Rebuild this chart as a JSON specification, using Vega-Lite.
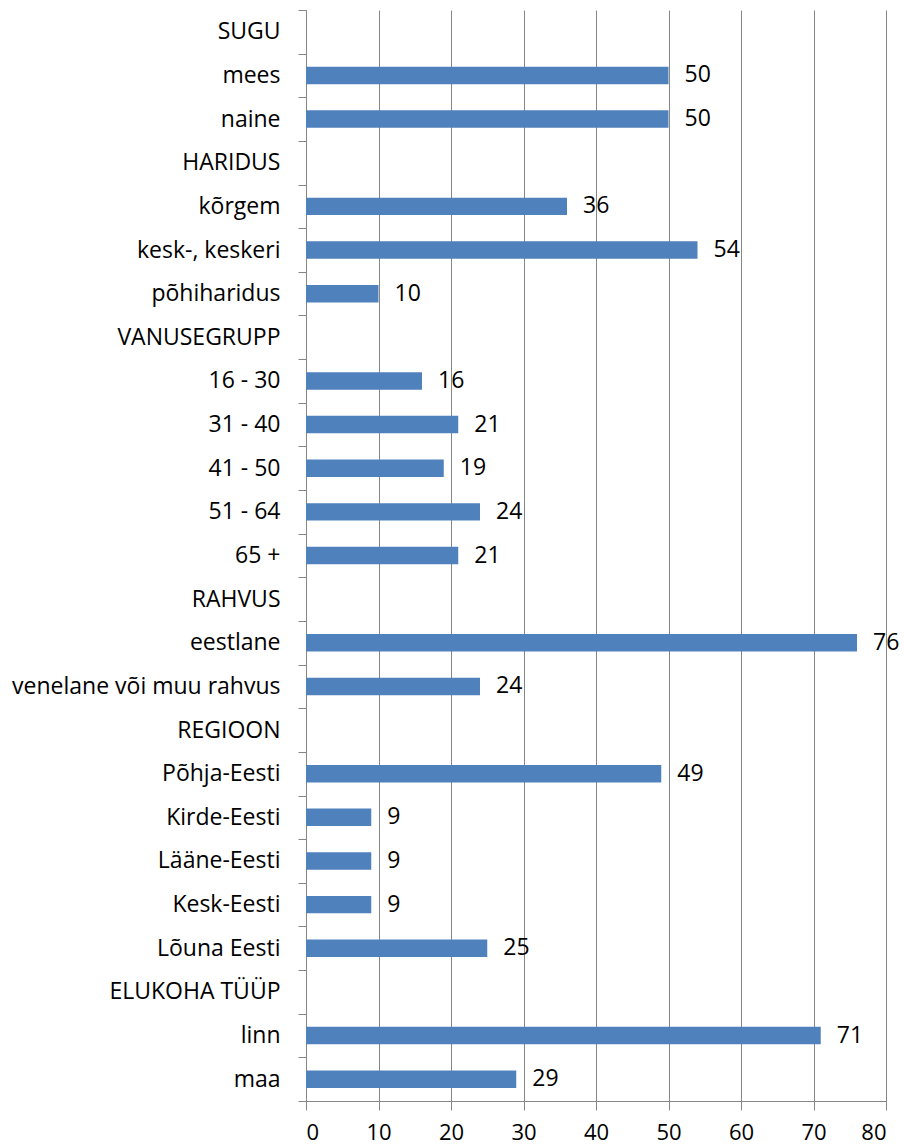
{
  "$schema": "https://vega.github.io/schema/vega-lite/v6.json",
  "width": 580,
  "height": 1091,
  "autosize": {"type": "none"},
  "padding": {"left": 306, "top": 10, "right": 18, "bottom": 45},
  "background": "white",
  "data": {
    "values": [
      {"category": "SUGU", "value": null},
      {"category": "mees", "value": 50},
      {"category": "naine", "value": 50},
      {"category": "HARIDUS", "value": null},
      {"category": "kõrgem", "value": 36},
      {"category": "kesk-, keskeri", "value": 54},
      {"category": "põhiharidus", "value": 10},
      {"category": "VANUSEGRUPP", "value": null},
      {"category": "16 - 30", "value": 16},
      {"category": "31 - 40", "value": 21},
      {"category": "41 - 50", "value": 19},
      {"category": "51 - 64", "value": 24},
      {"category": "65 +", "value": 21},
      {"category": "RAHVUS", "value": null},
      {"category": "eestlane", "value": 76},
      {"category": "venelane või muu rahvus", "value": 24},
      {"category": "REGIOON", "value": null},
      {"category": "Põhja-Eesti", "value": 49},
      {"category": "Kirde-Eesti", "value": 9},
      {"category": "Lääne-Eesti", "value": 9},
      {"category": "Kesk-Eesti", "value": 9},
      {"category": "Lõuna Eesti", "value": 25},
      {"category": "ELUKOHA TÜÜP", "value": null},
      {"category": "linn", "value": 71},
      {"category": "maa", "value": 29}
    ]
  },
  "encoding": {
    "y": {
      "field": "category",
      "type": "nominal",
      "sort": null,
      "scale": {
        "domain": ["SUGU", "mees", "naine", "HARIDUS", "kõrgem", "kesk-, keskeri", "põhiharidus", "VANUSEGRUPP", "16 - 30", "31 - 40", "41 - 50", "51 - 64", "65 +", "RAHVUS", "eestlane", "venelane või muu rahvus", "REGIOON", "Põhja-Eesti", "Kirde-Eesti", "Lääne-Eesti", "Kesk-Eesti", "Lõuna Eesti", "ELUKOHA TÜÜP", "linn", "maa"],
        "paddingInner": 0,
        "paddingOuter": 0
      },
      "axis": {
        "title": null,
        "tickBand": "extent",
        "grid": false,
        "domainColor": "#868686",
        "tickColor": "#868686",
        "tickSize": 8,
        "labelPadding": 18,
        "labelFont": "Open Sans",
        "labelFontSize": 23,
        "labelColor": "black",
        "labelLimit": 400
      }
    },
    "x": {
      "field": "value",
      "type": "quantitative",
      "scale": {"domain": [0, 80], "nice": false},
      "axis": {
        "title": null,
        "values": [0, 10, 20, 30, 40, 50, 60, 70, 80],
        "grid": true,
        "gridColor": "#868686",
        "gridOpacity": 1,
        "domainColor": "#868686",
        "tickColor": "#868686",
        "tickSize": 9,
        "labelPadding": 12,
        "labelFont": "Open Sans",
        "labelFontSize": 22,
        "labelColor": "black"
      }
    }
  },
  "layer": [
    {"mark": {"type": "bar", "color": "#4F81BD", "height": {"band": 0.4}}},
    {
      "mark": {"type": "text", "align": "left", "baseline": "middle", "dx": 16, "font": "Open Sans", "fontSize": 23, "color": "black"},
      "encoding": {"text": {"field": "value", "type": "quantitative"}}
    }
  ],
  "config": {"view": {"stroke": null}}
}
